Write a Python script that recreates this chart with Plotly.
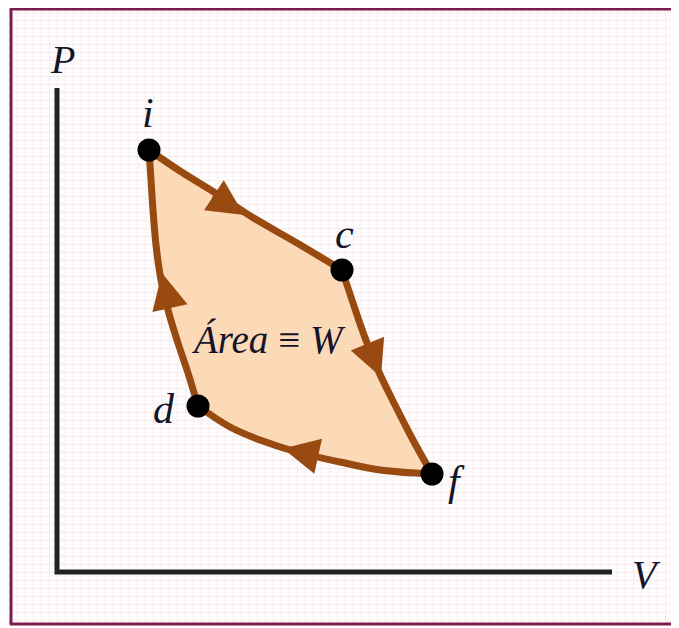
import plotly.graph_objects as go

# Cycle vertices (V, P) in arbitrary units
vertex_names = ["i", "c", "f", "d"]
vertex_V = [1.84, 5.70, 7.50, 2.82]
vertex_P = [8.44, 6.04, 1.96, 3.32]

# Process paths
path_ic_V = [1.84, 2.46, 3.20, 3.90, 4.80, 5.70]
path_ic_P = [8.44, 8.02, 7.56, 7.10, 6.58, 6.04]
path_cf_V = [5.70, 5.90, 6.14, 6.42, 6.76, 7.12, 7.50]
path_cf_P = [6.04, 5.44, 4.74, 4.04, 3.34, 2.64, 1.96]
path_fd_V = [7.50, 6.46, 5.66, 4.80, 4.06, 3.46, 2.82]
path_fd_P = [1.96, 2.04, 2.20, 2.40, 2.64, 2.90, 3.32]
path_di_V = [2.82, 2.62, 2.40, 2.22, 2.08, 1.98, 1.92, 1.88, 1.84]
path_di_P = [3.32, 3.98, 4.64, 5.24, 5.84, 6.54, 7.24, 7.84, 8.44]

# Direction arrows: tip and tail (V, P)
arrow_tip_V = [3.74, 6.48, 4.52, 2.10]
arrow_tip_P = [7.14, 3.90, 2.47, 5.98]
arrow_tail_V = [3.10, 6.22, 5.20, 2.24]
arrow_tail_P = [7.56, 4.54, 2.32, 5.36]

# Label positions
label_V = [1.82, 5.74, 7.98, 2.14]
label_P = [9.18, 6.76, 1.82, 3.26]
axis_label_P_pos = (0.10, 10.26)
axis_label_V_pos = (11.78, -0.04)
area_label_pos = (4.22, 4.66)
axis_V_end = 11.10
axis_P_end = 9.68

LINE = "#994a10"
FILL = "#fcd9b7"
TXT = "#15152a"
SERIF = "Liberation Serif"
BORDER = "#7a1c4c"

fig = go.Figure()

# Fill of the cycle
fill_V = path_ic_V + path_cf_V[1:] + path_fd_V[1:] + path_di_V[1:]
fill_P = path_ic_P + path_cf_P[1:] + path_fd_P[1:] + path_di_P[1:]
fig.add_trace(go.Scatter(x=fill_V, y=fill_P, mode="lines", fill="toself",
                         fillcolor=FILL, line=dict(width=0, color=FILL),
                         hoverinfo="skip", showlegend=False))

# Axes
fig.add_trace(go.Scatter(x=[0, 0, axis_V_end], y=[axis_P_end, 0, 0], mode="lines",
                         line=dict(color="#222222", width=5), hoverinfo="skip",
                         showlegend=False))

# Process curves
for pv, pp in [(path_ic_V, path_ic_P), (path_cf_V, path_cf_P),
               (path_fd_V, path_fd_P), (path_di_V, path_di_P)]:
    fig.add_trace(go.Scatter(x=pv, y=pp, mode="lines",
                             line=dict(color=LINE, width=7, shape="spline"),
                             hoverinfo="skip", showlegend=False))

# Vertices
fig.add_trace(go.Scatter(x=vertex_V, y=vertex_P, mode="markers",
                         marker=dict(color="black", size=23),
                         hoverinfo="skip", showlegend=False))

annotations = []
for tv, tp, av, ap in zip(arrow_tip_V, arrow_tip_P, arrow_tail_V, arrow_tail_P):
    annotations.append(dict(x=tv, y=tp, ax=av, ay=ap, xref="x", yref="y",
                            axref="x", ayref="y", text="", showarrow=True,
                            arrowhead=2, arrowsize=1.2, arrowwidth=6,
                            arrowcolor=LINE, standoff=0, startstandoff=0))

for name, lv, lp in zip(vertex_names, label_V, label_P):
    annotations.append(dict(x=lv, y=lp, xref="x", yref="y", text=f"<i>{name}</i>",
                            showarrow=False, font=dict(family=SERIF, size=42, color=TXT)))

annotations.append(dict(x=axis_label_P_pos[0], y=axis_label_P_pos[1], xref="x", yref="y",
                        text="<i>P</i>", showarrow=False,
                        font=dict(family=SERIF, size=40, color=TXT)))
annotations.append(dict(x=axis_label_V_pos[0], y=axis_label_V_pos[1], xref="x", yref="y",
                        text="<i>V</i>", showarrow=False,
                        font=dict(family=SERIF, size=40, color=TXT)))
annotations.append(dict(x=area_label_pos[0], y=area_label_pos[1], xref="x", yref="y",
                        text="<i>Área</i> ≡ <i>W</i>", showarrow=False,
                        font=dict(family=SERIF, size=39, color=TXT)))

# Frame: top, left and bottom sides (right side lies outside the picture)
frame = [
    dict(type="line", xref="paper", yref="paper", x0=-0.002, x1=1.0, y0=1, y1=1,
         line=dict(color=BORDER, width=3), layer="above"),
    dict(type="line", xref="paper", yref="paper", x0=0, x1=0, y0=0, y1=1,
         line=dict(color=BORDER, width=3), layer="above"),
    dict(type="line", xref="paper", yref="paper", x0=-0.002, x1=1.0, y0=0, y1=0,
         line=dict(color=BORDER, width=3), layer="above"),
]

# The page body has an 8 px margin; the figure is sized so the page does not overflow.
fig.update_layout(
    width=663, height=620,
    margin=dict(l=3, r=0, t=1, b=4),
    paper_bgcolor="white",
    plot_bgcolor="#fefcfc",
    annotations=annotations,
    shapes=frame,
    xaxis=dict(range=[-0.92, 12.28], showticklabels=False, zeroline=False,
               showgrid=True, gridcolor="#f7ebeb", gridwidth=1, dtick=0.16, tick0=0,
               ticks="", fixedrange=True),
    yaxis=dict(range=[-1.04, 11.26], showticklabels=False, zeroline=False,
               showgrid=True, gridcolor="#f7ebeb", gridwidth=1, dtick=0.16, tick0=0,
               ticks="", fixedrange=True),
)

fig.write_html("out.html")
